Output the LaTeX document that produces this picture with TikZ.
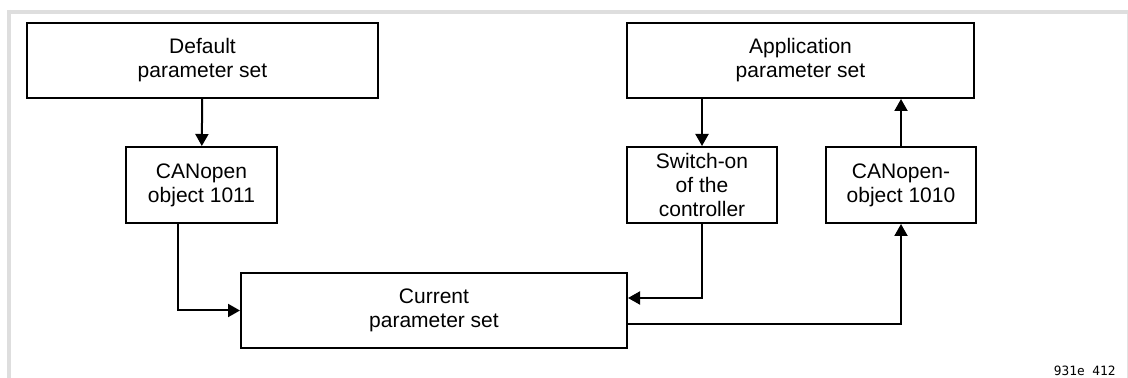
\documentclass[tikz,border=0pt]{standalone}
\usepackage{fontspec}
\setmainfont{Liberation Sans}
\newfontfamily\codefont{DejaVu Sans Mono}
\usetikzlibrary{arrows.meta}
\begin{document}
\begin{tikzpicture}[x=0.5pt, y=-0.5pt, font=\fontsize{10.5}{12}\selectfont]
    \tikzset{box/.style={draw, line width=1pt, align=center, inner sep=0pt},
             flow/.style={line width=1pt, -{Triangle[length=6pt,width=6.5pt]}},
             frame line/.style={draw=black!13, line width=2pt}}

    % Page frame (fixes the margins)
    \useasboundingbox (0,0) rectangle (1128,378);
    \draw[frame line] (7,12) -- (1128,12);
    \draw[frame line] (9,10) -- (9,378);
    \draw[draw=black!11, line width=0.5pt] (1127.5,14) -- (1127.5,378);

    % Top row - parameter sets
    \node[box, minimum width=175.5pt, minimum height=37.5pt] (dflt) at (202.5, 60.5) {Default\\parameter set};
    \node[box, minimum width=173.5pt, minimum height=37.5pt] (app) at (800.5, 60.5) {Application\\parameter set};

    % Middle row - objects and switch-on
    \node[box, minimum width=75.5pt, minimum height=38pt] (obj1011) at (201.5, 185) {CANopen\\object 1011};
    \node[box, minimum width=75pt, minimum height=38pt] (switchon) at (702, 185) {Switch-on\\of the\\controller};
    \node[box, minimum width=75pt, minimum height=38pt] (obj1010) at (901, 185) {CANopen-\\object 1010};

    % Bottom row - current parameter set
    \node[box, minimum width=193pt, minimum height=37.5pt] (current) at (434, 310.5) {Current\\parameter set};

    % Connections
    \draw[flow] (dflt) -- (obj1011);
    \draw[flow] (switchon.north |- app.south) -- (switchon);
    \draw[flow] (obj1010) -- (obj1010.north |- app.south);
    \draw[flow] ([xshift=-11.75pt]obj1011.south) |- (current.west);
    \draw[flow] (switchon.south) |- ([yshift=6.25pt]current.east);
    \draw[flow] ([yshift=-6.75pt]current.east) -| (obj1010.south);

    % Figure number
    \node[anchor=base east, inner sep=0pt, font=\codefont\fontsize{6.4}{7}\selectfont] (fignum) at (1116, 376) {931e 412};
\end{tikzpicture}
\end{document}
